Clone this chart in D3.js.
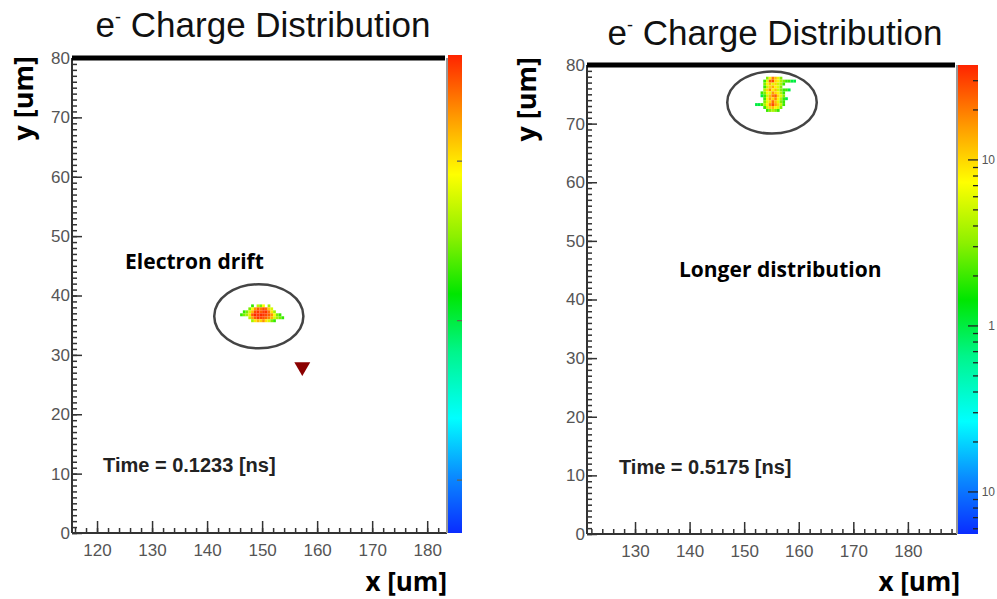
<!DOCTYPE html>
<html>
<head>
<meta charset="utf-8">
<script src="https://cdn.jsdelivr.net/npm/d3@7"></script>
<style>
  body { margin: 0; background: #fff; }
  svg { display: block; }
</style>
</head>
<body>
<svg id="chart" width="997" height="599"></svg>
<script>
// Two snapshots of the e- charge distribution (ROOT style 2D histograms, log colour scale)

// ---- data ----
const yTicks = [0, 10, 20, 30, 40, 50, 60, 70, 80];
const leftXTicks = [120, 130, 140, 150, 160, 170, 180];
const rightXTicks = [130, 140, 150, 160, 170, 180];

const leftXDomain = [115.45, 183.6];
const rightXDomain = [121.2, 189.0];

// colour (z) axis ranges, log scale
const leftZRange = [0.0466, 46.3];
const rightZRange = [0.0558, 37.3];
const zMajor = [0.1, 1, 10];
const rightZLabels = ["10", "1", "10"];

// rainbow palette (fraction of the log z range -> colour)
const paletteStops = [0, 0.12, 0.24, 0.38, 0.5, 0.62, 0.75, 0.87, 1];
const paletteColors = ["#0a2cff", "#0a8cff", "#00ffff", "#00f58a", "#00e600", "#8cf000", "#ffff00", "#ff9a00", "#ff2400"];

// left snapshot: bin lower edges (um) and counts, rows from top to bottom
const leftBinX = [146.0, 146.5, 147.0, 147.5, 148.0, 148.5, 149.0, 149.5, 150.0, 150.5, 151.0, 151.5, 152.0, 152.5, 153.0, 153.5];
const leftBinY = [38.0, 37.5, 37.0, 36.5, 36.0, 35.5];
const leftCounts = [
  [0, 0, 0, 0, 2, 0, 5, 3, 8, 0, 4, 0, 0, 0, 0, 0],
  [0, 0, 0, 3, 8, 20, 30, 25, 35, 28, 12, 6, 0, 0, 0, 0],
  [0, 2, 3, 6, 15, 35, 40, 30, 38, 42, 25, 10, 4, 0, 0, 0],
  [2, 3, 4, 10, 30, 45, 38, 44, 40, 35, 30, 20, 8, 3, 2, 0],
  [0, 0, 0, 5, 18, 30, 42, 36, 33, 28, 22, 15, 6, 4, 3, 2],
  [0, 0, 0, 0, 4, 10, 15, 12, 20, 10, 6, 3, 2, 0, 0, 0]
];

// right snapshot
const rightBinX = [152.0, 152.5, 153.0, 153.5, 154.0, 154.5, 155.0, 155.5, 156.0, 156.5, 157.0, 157.5, 158.0, 158.5, 159.0, 159.5];
const rightBinY = [77.5, 77.0, 76.5, 76.0, 75.5, 75.0, 74.5, 74.0, 73.5, 73.0, 72.5, 72.0];
const rightCounts = [
  [0, 0, 0, 0, 3, 8, 20, 12, 6, 3, 0, 0, 0, 0, 0, 0],
  [0, 0, 0, 2, 6, 25, 30, 10, 8, 4, 3, 2, 2, 1, 1, 0],
  [0, 0, 0, 3, 8, 12, 6, 10, 5, 4, 2, 0, 0, 0, 0, 0],
  [0, 0, 0, 2, 5, 10, 14, 8, 6, 3, 0, 0, 0, 0, 0, 0],
  [0, 0, 0, 4, 10, 18, 8, 12, 5, 3, 2, 2, 1, 0, 0, 0],
  [0, 0, 2, 3, 8, 6, 16, 10, 8, 4, 2, 0, 0, 0, 0, 0],
  [0, 0, 1, 2, 5, 12, 20, 25, 10, 6, 3, 0, 0, 0, 0, 0],
  [0, 0, 0, 2, 8, 15, 10, 18, 8, 4, 2, 1, 0, 0, 0, 0],
  [0, 0, 0, 3, 6, 10, 22, 12, 6, 3, 2, 0, 0, 0, 0, 0],
  [1, 1, 2, 4, 8, 18, 28, 15, 10, 5, 2, 0, 0, 0, 0, 0],
  [0, 0, 0, 2, 5, 10, 12, 8, 6, 3, 0, 0, 0, 0, 0, 0],
  [0, 0, 0, 0, 2, 3, 4, 3, 2, 0, 0, 0, 0, 0, 0, 0]
];

const BIN = 0.5;

const panels = [
  {
    id: "l",
    xDomain: leftXDomain, xTicks: leftXTicks, zRange: leftZRange,
    binX: leftBinX, binY: leftBinY, counts: leftCounts,
    frame: { x0: 72, x1: 447, y0: 58, y1: 533 },
    bar: { x: 448, w: 14, y0: 55, y1: 533 },
    barMinor: false, barLabels: null,
    titleX: 263, titleY: 37, yLabelX: 33, yLabelTop: 56, xLabelX: 447,
    ellipse: { cx: 149.4, cy: 36.5, rx: 8.1, ry: 5.4 },
    note: { x: 125.1, y: 44.5, text: "Electron drift" },
    time: { x: 121.1, y: 10.2, text: "Time = 0.1233 [ns]" },
    marker: { x: 157.3, y: 28.0 }
  },
  {
    id: "r",
    xDomain: rightXDomain, xTicks: rightXTicks, zRange: rightZRange,
    binX: rightBinX, binY: rightBinY, counts: rightCounts,
    frame: { x0: 587, x1: 957, y0: 65, y1: 534 },
    bar: { x: 958, w: 20, y0: 65, y1: 534 },
    barMinor: true, barLabels: rightZLabels,
    titleX: 775, titleY: 45, yLabelX: 536, yLabelTop: 57, xLabelX: 960,
    ellipse: { cx: 155.1, cy: 73.6, rx: 8.2, ry: 5.3 },
    note: { x: 138.05, y: 43.8, text: "Longer distribution" },
    time: { x: 127.06, y: 10.3, text: "Time = 0.5175 [ns]" },
    marker: null
  }
];

const svg = d3.select("#chart");
const defs = svg.append("defs");
defs.append("filter").attr("id", "soft")
  .append("feGaussianBlur").attr("stdDeviation", 0.6);

const palette = d3.scaleLinear().domain(paletteStops).range(paletteColors).clamp(true);

panels.forEach((p) => {
  const f = p.frame;
  const x = d3.scaleLinear().domain(p.xDomain).range([f.x0, f.x1]);
  const y = d3.scaleLinear().domain([0, 80]).range([f.y1, f.y0]);
  const zNorm = d3.scaleLog().domain(p.zRange).range([0, 1]).clamp(true);
  const g = svg.append("g");

  // title  e^- Charge Distribution
  const title = g.append("text")
    .attr("x", p.titleX).attr("y", p.titleY)
    .attr("text-anchor", "middle")
    .style("font-family", "'Liberation Sans', Arial, sans-serif")
    .style("font-size", "35px").style("fill", "#111");
  title.append("tspan").text("e");
  title.append("tspan").attr("dy", -14).style("font-size", "18px").text("-");
  title.append("tspan").attr("dy", 14).text(" Charge Distribution");

  // histogram cells
  const cells = [];
  p.counts.forEach((row, i) => row.forEach((v, j) => {
    if (v > 0) cells.push({ x0: p.binX[j], y0: p.binY[i], v });
  }));
  g.append("g").attr("filter", "url(#soft)")
    .selectAll("rect").data(cells).join("rect")
    .attr("x", (d) => x(d.x0))
    .attr("y", (d) => y(d.y0 + BIN))
    .attr("width", (d) => x(d.x0 + BIN) - x(d.x0))
    .attr("height", (d) => y(d.y0) - y(d.y0 + BIN))
    .attr("fill", (d) => palette(zNorm(d.v)));

  // minor ticks
  const minorX = d3.range(Math.ceil(p.xDomain[0] / 2) * 2, p.xDomain[1], 2);
  const minorY = d3.range(0, 81, 1);
  const tickStyle = (sel) => {
    sel.select(".domain").remove();
    sel.selectAll(".tick line").attr("stroke", "#333").attr("stroke-width", 1.5);
    sel.selectAll(".tick text")
      .style("font-family", "'Liberation Sans', Arial, sans-serif")
      .style("font-size", "17px").style("fill", "#555");
  };
  g.append("g").attr("transform", `translate(0,${f.y1})`)
    .call(d3.axisBottom(x).tickValues(minorX).tickSize(-5).tickFormat(""))
    .call(tickStyle);
  g.append("g").attr("transform", `translate(0,${f.y1})`)
    .call(d3.axisBottom(x).tickValues(p.xTicks).tickSize(-12).tickPadding(11).tickFormat(d3.format("d")))
    .call(tickStyle);
  g.append("g").attr("transform", `translate(${f.x0},0)`)
    .call(d3.axisLeft(y).tickValues(minorY).tickSize(-5).tickFormat(""))
    .call(tickStyle);
  g.append("g").attr("transform", `translate(${f.x0},0)`)
    .call(d3.axisLeft(y).tickValues(yTicks).tickSize(-10).tickPadding(2).tickFormat(d3.format("d")))
    .call(tickStyle);

  // frame
  g.append("line").attr("x1", f.x0).attr("x2", f.x0).attr("y1", f.y0).attr("y2", f.y1)
    .attr("stroke", "#333").attr("stroke-width", 2);
  g.append("line").attr("x1", f.x0).attr("x2", f.x1).attr("y1", f.y1).attr("y2", f.y1)
    .attr("stroke", "#333").attr("stroke-width", 2);
  g.append("line").attr("x1", f.x1).attr("x2", f.x1).attr("y1", f.y0).attr("y2", f.y1)
    .attr("stroke", "#999").attr("stroke-width", 2);
  g.append("line").attr("x1", f.x0).attr("x2", f.x1 - 2).attr("y1", f.y0).attr("y2", f.y0)
    .attr("stroke", "#000").attr("stroke-width", 5);

  // colour bar
  const grad = defs.append("linearGradient").attr("id", "grad-" + p.id)
    .attr("x1", 0).attr("y1", 1).attr("x2", 0).attr("y2", 0);
  paletteStops.forEach((s, i) => grad.append("stop").attr("offset", s).attr("stop-color", paletteColors[i]));
  const b = p.bar;
  g.append("rect").attr("x", b.x).attr("y", b.y0).attr("width", b.w).attr("height", b.y1 - b.y0)
    .attr("fill", `url(#grad-${p.id})`);
  const zBar = d3.scaleLog().domain(p.zRange).range([b.y1, b.y0]);
  const barTicks = p.barMinor ? zBar.ticks() : zMajor;
  g.append("g").selectAll("line").data(barTicks).join("line")
    .attr("x1", (d) => b.x + b.w - (zMajor.includes(d) ? (p.barMinor ? 10 : 5) : 5))
    .attr("x2", b.x + b.w)
    .attr("y1", (d) => zBar(d)).attr("y2", (d) => zBar(d))
    .attr("stroke", p.barMinor ? "#222" : "#665").attr("stroke-width", 1.3);
  if (p.barLabels) {
    g.append("g").selectAll("text").data(zMajor).join("text")
      .attr("x", 995).attr("y", (d) => zBar(d)).attr("dy", "0.35em")
      .attr("text-anchor", "end")
      .style("font-family", "'Liberation Sans', Arial, sans-serif")
      .style("font-size", "12px").style("fill", "#555")
      .text((d, i) => p.barLabels[i]);
  }

  // axis titles
  g.append("text")
    .attr("transform", `translate(${p.yLabelX},${p.yLabelTop}) rotate(-90)`)
    .attr("text-anchor", "end")
    .style("font-family", "'Open Sans', sans-serif").style("font-weight", 700)
    .style("font-size", "27px").style("fill", "#000")
    .text("y [um]");
  g.append("text")
    .attr("x", p.xLabelX).attr("y", 591).attr("text-anchor", "end")
    .style("font-family", "'Open Sans', sans-serif").style("font-weight", 700)
    .style("font-size", "26px").style("fill", "#000")
    .text("x [um]");

  // annotations
  const e = p.ellipse;
  g.append("ellipse")
    .attr("cx", x(e.cx)).attr("cy", y(e.cy))
    .attr("rx", x(e.cx + e.rx) - x(e.cx)).attr("ry", y(e.cy) - y(e.cy + e.ry))
    .attr("fill", "none").attr("stroke", "#444").attr("stroke-width", 2.5);
  g.append("text")
    .attr("x", x(p.note.x)).attr("y", y(p.note.y))
    .style("font-family", "'Open Sans', sans-serif").style("font-weight", 700)
    .style("font-size", "21px").style("fill", "#000")
    .text(p.note.text);
  g.append("text")
    .attr("x", x(p.time.x)).attr("y", y(p.time.y))
    .style("font-family", "'Liberation Sans', Arial, sans-serif").style("font-weight", 700)
    .style("font-size", "20px").style("fill", "#222")
    .text(p.time.text);
  if (p.marker) {
    g.append("path")
      .attr("d", d3.symbol(d3.symbolTriangle, 110)())
      .attr("transform", `translate(${x(p.marker.x)},${y(p.marker.y)}) rotate(180)`)
      .attr("fill", "#8b0000");
  }
});
</script>
</body>
</html>
